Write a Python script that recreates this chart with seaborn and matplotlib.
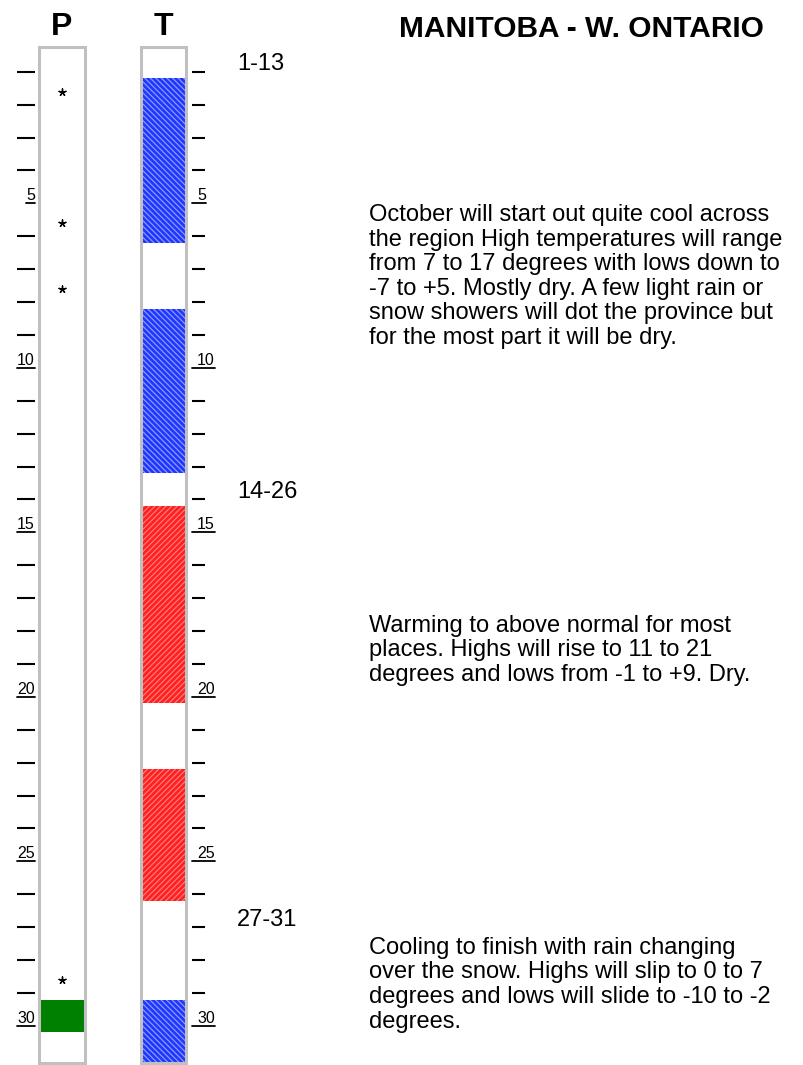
import matplotlib
matplotlib.use("Agg")
import matplotlib.pyplot as plt
import matplotlib.transforms as mtransforms
from matplotlib.patches import Rectangle
from matplotlib.lines import Line2D
import numpy as np
import pandas as pd
import seaborn as sns

# daily outlook for October: T = temperature trend, P = precipitation
days = list(range(1, 32))
t_kind = ["none",
          "cold", "cold", "cold", "cold", "cold",
          "none", "none",
          "cold", "cold", "cold", "cold", "cold",
          "none",
          "warm", "warm", "warm", "warm", "warm", "warm",
          "none", "none",
          "warm", "warm", "warm", "warm",
          "none", "none", "none",
          "cold", "cold"]
snow_days = [2, 6, 8, 29]
rain_days = [30]

periods = ["1-13", "14-26", "27-31"]
period_start = [1, 14, 27]
period_text = [
    "October will start out quite cool across\n"
    "the region High temperatures will range\n"
    "from 7 to 17 degrees with lows down to\n"
    "-7 to +5. Mostly dry. A few light rain or\n"
    "snow showers will dot the province but\n"
    "for the most part it will be dry.",
    "Warming to above normal for most\n"
    "places. Highs will rise to 11 to 21\n"
    "degrees and lows from -1 to +9. Dry.",
    "Cooling to finish with rain changing\n"
    "over the snow. Highs will slip to 0 to 7\n"
    "degrees and lows will slide to -10 to -2\n"
    "degrees.",
]
region = "MANITOBA - W. ONTARIO"

sns.set_style("white")
plt.rcParams["font.family"] = ["Liberation Sans", "DejaVu Sans"]
plt.rcParams["text.color"] = "black"
plt.rcParams["hatch.linewidth"] = 0.9

df_t = pd.DataFrame({"day": days, "kind": t_kind})
df_t["fill"] = 1.0
df_p = pd.DataFrame({"day": rain_days, "fill": 1.0})
df_s = pd.DataFrame({"day": snow_days, "x": 0.5})

fig = plt.figure(figsize=(8.04, 10.65), dpi=100)
H = 1065.0
W = 804.0
ax_p = fig.add_axes([39 / W, 1 - 1063 / H, 46 / W, (1063 - 46.5) / H])
ax_t = fig.add_axes([141.3 / W, 1 - 1063 / H, 45 / W, (1063 - 46.5) / H])

styles = {"cold": ("#1f36ff", "#8c9aff", "\\\\\\\\\\\\"),
          "warm": ("#ff1f1f", "#ff7a7a", "//////")}
for kind, (face, stripe, hatch) in styles.items():
    sub = df_t[df_t["kind"] == kind]
    n0 = len(ax_t.patches)
    sns.barplot(data=sub, x="fill", y="day", orient="h", native_scale=True,
                width=1.0, color=face, saturation=1, linewidth=0, ax=ax_t)
    for bar in ax_t.patches[n0:]:
        bar.set_facecolor(face)
        bar.set_edgecolor(stripe)
        bar.set_linewidth(0)
        bar.set_hatch(hatch)

sns.barplot(data=df_p, x="fill", y="day", orient="h", native_scale=True,
            width=1.0, color="#008000", saturation=1, linewidth=0, ax=ax_p)
sns.scatterplot(data=df_s, x="x", y="day", marker=(5, 2, 0), s=26,
                color="black", linewidth=1.0, ax=ax_p)
# the asterisk glyph sits a little above the middle of its day
stars = ax_p.collections[-1]
stars.set_offset_transform(mtransforms.offset_copy(ax_p.transData, fig=fig,
                                                   y=3, units="dots"))

y_top, y_bot = 0.533, 31.43
minor_pos = [d + 0.3 for d in days if d % 5 != 0 and d <= 30]
for ax, side in ((ax_p, "left"), (ax_t, "right")):
    ax.set_xlim(0, 1)
    ax.set_ylim(y_bot, y_top)
    ax.set_xlabel("")
    ax.set_ylabel("")
    ax.set_xticks([])
    for s in ax.spines.values():
        s.set_visible(False)
    ax.add_patch(Rectangle((0, 0), 1, 1, transform=ax.transAxes, fill=False,
                           ec="#c0c0c0", lw=2.2, zorder=5, clip_on=False))
    ax.set_yticks(minor_pos)
    ax.set_yticklabels([])
    if side == "left":
        ax.spines["left"].set_position(("outward", 3.2))
        ax.tick_params(axis="y", left=True, right=False, length=13, width=1.5,
                       color="black", direction="out")
    else:
        ax.yaxis.tick_right()
        ax.spines["right"].set_position(("outward", 4.1))
        ax.tick_params(axis="y", left=False, right=True, length=9.4, width=1.5,
                       color="black", direction="out")

ax_p.set_title("P", fontsize=23, fontweight="bold", pad=8.3)
ax_t.set_title("T", fontsize=23, fontweight="bold", pad=8.3)

# underlined day numbers every 5 days
tr_p = mtransforms.blended_transform_factory(ax_p.transAxes, ax_p.transData)
tr_t = mtransforms.blended_transform_factory(ax_t.transAxes, ax_t.transData)
day_labels = []
for d in days:
    if d % 5 == 0:
        lp = ax_p.text(-0.087, d + 0.3 - 0.09, str(d), transform=tr_p,
                       ha="right", va="baseline", fontsize=11.5)
        rt = ax_t.text(1.24, d + 0.3 - 0.09, str(d), transform=tr_t,
                       ha="left", va="baseline", fontsize=11.5)
        day_labels.append((d, lp, rt))

tr_f = mtransforms.blended_transform_factory(fig.transFigure, ax_t.transData)
body_y = [7.52, 18.88, 29.05]
for lab, start, txt, by in zip(periods, period_start, period_text, body_y):
    ax_t.text(237 / W, start + 0.08, lab, transform=tr_f, ha="left",
              va="center", fontsize=17, clip_on=False)
    ax_t.text(369 / W, by, txt, transform=tr_f, ha="left", va="center",
              fontsize=17, linespacing=1.15, clip_on=False)

fig.text(581 / W, 1 - 29 / H, region, ha="center", va="center",
         fontsize=21.5, fontweight="bold")

fig.canvas.draw()
renderer = fig.canvas.get_renderer()
p_edge = ax_p.transAxes.transform((-0.087, 0))[0]
t_edge = ax_t.transAxes.transform((1.127, 0))[0]
for d, lp, rt in day_labels:
    yy = ax_p.transData.transform((0, d + 0.3))[1]
    bl = lp.get_window_extent(renderer)
    br = rt.get_window_extent(renderer)
    for x0, x1 in ((bl.x0, p_edge), (t_edge, br.x1)):
        fig.add_artist(Line2D([x0, x1], [yy, yy], color="black", lw=1.3,
                              transform=mtransforms.IdentityTransform()))

fig.savefig("out.png", dpi=100)
